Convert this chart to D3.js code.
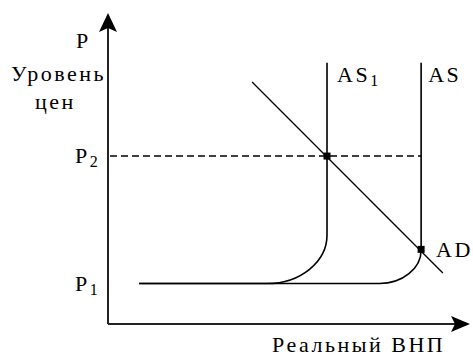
<!DOCTYPE html>
<html>
<head>
<meta charset="utf-8">
<script src="https://cdn.jsdelivr.net/npm/d3@7"></script>
<style>
  html, body { margin: 0; padding: 0; background: #fff; }
  svg { display: block; }
  text { font-family: "Liberation Serif", "Times New Roman", serif; fill: #000; letter-spacing: 2.5px; }
</style>
</head>
<body>
<svg id="chart" width="473" height="358"></svg>
<script>
// Price levels marked on the P axis
const priceLevels = [
  { name: "P", sub: "1", value: 13 },
  { name: "P", sub: "2", value: 54 }
];
// Aggregate supply curves: flat segment, knee, vertical segment
const supplyNames = ["AS", "AS"];
const supplySubs = ["1", ""];
const supplyStartX = [8.6, 8.6];
const supplyKneeStartX = [44, 75];
const supplyVerticalX = [60.5, 86.5];
const supplyKneeTopY = [28.6, 23.8];
const supplyTopY = [84, 84];
const supplyBaseY = [13, 13];
// Aggregate demand line
const demandX = [39.8, 92.5];
const demandY = [77.8, 16.4];
const demandName = "AD";
// Equilibrium points
const equilibriumX = [60.5, 86.5];
const equilibriumY = [54, 24];
// Axis titles
const yTitle = ["P", "Уровень", "цен"];
const xTitle = "Реальный ВНП";

const svg = d3.select("#chart");
const x = d3.scaleLinear().domain([0, 100]).range([108, 470]);
const y = d3.scaleLinear().domain([0, 100]).range([324, 13]);

// Axes with arrowheads
const axisG = svg.append("g");
axisG.append("line")
  .attr("x1", x(0)).attr("y1", y(0)).attr("x2", x(0)).attr("y2", y(100) + 10)
  .attr("stroke", "#222").attr("stroke-width", 2);
axisG.append("line")
  .attr("x1", x(0)).attr("y1", y(0)).attr("x2", x(100) - 10).attr("y2", y(0))
  .attr("stroke", "#222").attr("stroke-width", 2);
axisG.append("path")
  .attr("d", `M${x(0)},${y(100)} L${x(0) + 9},${y(100) + 19} L${x(0)},${y(100) + 15} L${x(0) - 9},${y(100) + 19} Z`)
  .attr("fill", "#000");
axisG.append("path")
  .attr("d", `M${x(100)},${y(0)} L${x(100) - 19},${y(0) - 8} L${x(100) - 15},${y(0)} L${x(100) - 19},${y(0) + 8} Z`)
  .attr("fill", "#000");

// Dashed P2 guide up to the AS line
svg.append("line")
  .attr("x1", x(0) + 2).attr("x2", x(supplyVerticalX[1]))
  .attr("y1", y(priceLevels[1].value)).attr("y2", y(priceLevels[1].value))
  .attr("stroke", "#000").attr("stroke-width", 1.5)
  .attr("stroke-dasharray", "7,4");

// Supply curves
const k = 0.5523;
supplyNames.forEach((name, i) => {
  const x0 = x(supplyStartX[i]), xk = x(supplyKneeStartX[i]), xv = x(supplyVerticalX[i]);
  const yb = y(supplyBaseY[i]), yk = y(supplyKneeTopY[i]), yt = y(supplyTopY[i]);
  const p = d3.path();
  p.moveTo(x0, yb);
  p.lineTo(xk, yb);
  p.bezierCurveTo(xk + (xv - xk) * k, yb, xv, yk + (yb - yk) * k, xv, yk);
  p.lineTo(xv, yt);
  svg.append("path").attr("d", p.toString())
    .attr("fill", "none").attr("stroke", "#000").attr("stroke-width", 1.6);
});

// Demand line
svg.append("line")
  .attr("x1", x(demandX[0])).attr("y1", y(demandY[0]))
  .attr("x2", x(demandX[1])).attr("y2", y(demandY[1]))
  .attr("stroke", "#000").attr("stroke-width", 1.3);

// Equilibrium markers
svg.selectAll("rect.eq").data(equilibriumX).join("rect")
  .attr("class", "eq")
  .attr("x", (d) => x(d) - 3.5)
  .attr("y", (d, i) => y(equilibriumY[i]) - 3.5)
  .attr("width", 7).attr("height", 7).attr("fill", "#000");

// Labels
const fs = 22, fsSub = 16;
svg.append("text").attr("x", 76).attr("y", 48).attr("font-size", fs).text(yTitle[0]);
svg.append("text").attr("x", 11).attr("y", 81).attr("font-size", fs).text(yTitle[1]);
svg.append("text").attr("x", 35).attr("y", 109).attr("font-size", fs).text(yTitle[2]);

priceLevels.forEach((p) => {
  const t = svg.append("text").attr("x", 75).attr("y", y(p.value) + 7).attr("font-size", fs);
  t.append("tspan").text(p.name);
  t.append("tspan").attr("font-size", fsSub).attr("dy", 4).text(p.sub);
});

supplyNames.forEach((name, i) => {
  const t = svg.append("text")
    .attr("x", x(supplyVerticalX[i]) + (i === 0 ? 10 : 7))
    .attr("y", 82).attr("font-size", fs);
  t.append("tspan").text(name);
  if (supplySubs[i]) t.append("tspan").attr("font-size", fsSub).attr("dy", 4).text(supplySubs[i]);
});
svg.append("text").attr("x", 436).attr("y", 257).attr("font-size", fs).text(demandName);

svg.append("text").attr("x", 272).attr("y", 352).attr("font-size", fs).text(xTitle);
</script>
</body>
</html>
